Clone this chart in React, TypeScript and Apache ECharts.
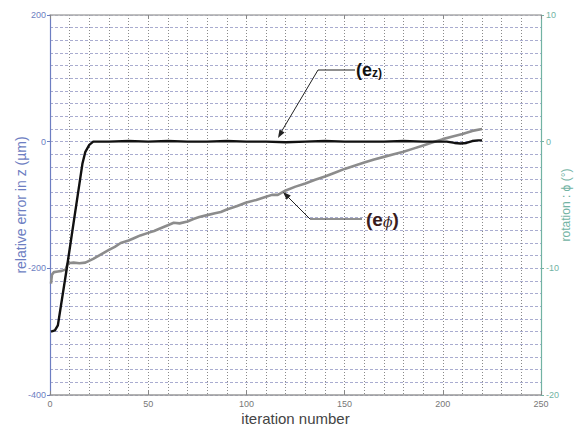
import React, { useEffect, useRef } from "react";
import * as echarts from "echarts";

// e_z : relative error in z (µm), left axis
const ezIter = [0.5, 2.5, 4, 8.5, 12.5, 16.5, 18, 20, 22, 30, 40, 50, 60, 70, 80, 90, 100, 110, 120, 130, 140, 150, 160, 170, 180, 190, 197, 202, 206, 209, 212, 215, 218, 220];
const ezVal = [-300, -298, -290, -201, -118, -35, -16, -5, 0, 0, 1, 0, 1, 0, 0, 1, 0, 0, -1, 0, 1, 0, 0, 0, 1, 0, 0, 0, -2, -3, -2, 1, 2, 2];

// e_phi : rotation (deg), right axis
const phiIter = [0.5, 1, 2, 4, 6, 8, 9, 12, 15, 18, 22, 26, 30, 33, 36, 40, 43, 46, 50, 53, 56, 60, 63, 66, 70, 73, 76, 80, 84, 87, 90, 95, 100, 105, 110, 113, 116, 120, 125, 130, 135, 140, 145, 150, 155, 160, 165, 170, 175, 180, 185, 190, 195, 200, 205, 210, 215, 220];
const phiVal = [-11.2, -10.5, -10.3, -10.25, -10.2, -10.1, -9.6, -9.55, -9.6, -9.55, -9.25, -8.9, -8.55, -8.3, -8.0, -7.8, -7.6, -7.4, -7.2, -7.05, -6.85, -6.6, -6.4, -6.45, -6.3, -6.1, -5.95, -5.8, -5.65, -5.55, -5.35, -5.1, -4.8, -4.6, -4.35, -4.2, -4.2, -3.85, -3.55, -3.3, -3.0, -2.75, -2.45, -2.15, -1.9, -1.65, -1.4, -1.2, -1.0, -0.8, -0.55, -0.3, -0.05, 0.2, 0.4, 0.6, 0.85, 1.0];

const xRange = [0, 250];
const leftRange = [-400, 200];
const rightRange = [-20, 10];

const xName = "iteration number";
const leftName = "relative error in z (µm)";
const rightName = "rotation : ϕ (°)";

const FONT = "Liberation Sans, Arial, sans-serif";
const BLUE = "#6d7ec2";
const GREEN = "#72b3a3";

export default function App() {
  const ref = useRef<HTMLDivElement>(null);
  useEffect(() => {
    if (!ref.current) return;
    const chart = echarts.init(ref.current, null, { renderer: "svg" });
    const ezData = ezIter.map((x, i) => [x, ezVal[i]]);
    const phiData = phiIter.map((x, i) => [x, phiVal[i]]);
    const vGrid = { show: true, lineStyle: { color: "#8a8a8a", type: [1, 2], width: 1 } };
    const hGrid = { show: true, lineStyle: { color: "#a9acd0", type: [3, 2], width: 1 } };
    chart.setOption({
      animation: false,
      backgroundColor: "#ffffff",
      grid: { left: 50, right: 38, top: 15, bottom: 34, containLabel: false, outerBoundsMode: "none" },
      xAxis: [
        {
          type: "value",
          min: xRange[0],
          max: xRange[1],
          interval: 50,
          position: "bottom",
          name: xName,
          nameLocation: "middle",
          nameGap: 16,
          nameMoveOverlap: false,
          nameTextStyle: { fontFamily: FONT, fontSize: 15, color: "#444" },
          axisLine: { show: true, onZero: false, lineStyle: { color: "#999", width: 1.5 } },
          axisTick: { show: true, inside: true, length: 4, lineStyle: { color: "#888" } },
          axisLabel: { fontFamily: FONT, fontSize: 9, color: "#777", margin: 4 },
          splitLine: vGrid,
          minorTick: { show: false, splitNumber: 5 },
          minorSplitLine: vGrid,
        },
        {
          type: "value",
          min: xRange[0],
          max: xRange[1],
          interval: 50,
          position: "top",
          axisLine: { show: true, onZero: false, lineStyle: { color: "#aaa", width: 1.5 } },
          axisTick: { show: true, inside: true, length: 4, lineStyle: { color: "#888" } },
          axisLabel: { show: false },
          splitLine: { show: false },
        },
      ],
      yAxis: [
        {
          type: "value",
          min: leftRange[0],
          max: leftRange[1],
          interval: 200,
          position: "left",
          name: leftName,
          nameLocation: "middle",
          nameRotate: 90,
          nameGap: 22,
          nameMoveOverlap: false,
          nameTextStyle: { fontFamily: FONT, fontSize: 14, color: BLUE },
          axisLine: { show: true, onZero: false, lineStyle: { color: BLUE, width: 1.2 } },
          axisTick: { show: true, length: 3, lineStyle: { color: BLUE } },
          axisLabel: { fontFamily: FONT, fontSize: 9, color: BLUE, margin: 4 },
          splitLine: hGrid,
          minorTick: { show: false, splitNumber: 10 },
          minorSplitLine: hGrid,
        },
        {
          type: "value",
          min: rightRange[0],
          max: rightRange[1],
          interval: 10,
          position: "right",
          name: rightName,
          nameLocation: "middle",
          nameRotate: 90,
          nameGap: 19,
          nameMoveOverlap: false,
          nameTextStyle: { fontFamily: FONT, fontSize: 12, color: GREEN },
          axisLine: { show: true, onZero: false, lineStyle: { color: GREEN, width: 1.2 } },
          axisTick: { show: true, length: 3, lineStyle: { color: GREEN } },
          axisLabel: { fontFamily: FONT, fontSize: 9, color: GREEN, margin: 5 },
          splitLine: { show: false },
        },
      ],
      series: [
        {
          type: "line",
          xAxisIndex: 0,
          yAxisIndex: 1,
          data: phiData,
          showSymbol: false,
          lineStyle: { color: "#8c8c8c", width: 2.6 },
          z: 3,
        },
        {
          type: "line",
          xAxisIndex: 0,
          yAxisIndex: 0,
          data: ezData,
          showSymbol: false,
          lineStyle: { color: "#111111", width: 2.4 },
          z: 4,
        },
      ],
      graphic: [
        { type: "polyline", shape: { points: [[355, 70], [318, 70], [280, 134]] }, style: { stroke: "#222", lineWidth: 1, fill: null }, z: 10 },
        { type: "polygon", shape: { points: [[278, 138], [284.6, 132.6], [279.5, 129.6]] }, style: { fill: "#222" }, z: 10 },
        {
          type: "text",
          x: 356,
          y: 70,
          style: {
            text: "{b|(e}{s|z)}",
            verticalAlign: "middle",
            rich: {
              b: { fontFamily: FONT, fontSize: 18, fontWeight: "bold", fill: "#111" },
              s: { fontFamily: FONT, fontSize: 12, fontWeight: "bold", fill: "#111", padding: [6, 0, 0, 0] },
            },
          },
          z: 10,
        },
        { type: "polyline", shape: { points: [[362, 219], [310, 219], [286, 195]] }, style: { stroke: "#222", lineWidth: 1, fill: null }, z: 10 },
        { type: "polygon", shape: { points: [[283, 192], [290.8, 195.5], [286.6, 199.8]] }, style: { fill: "#222" }, z: 10 },
        {
          type: "text",
          x: 366,
          y: 219,
          style: {
            text: "{b|(e}{p|ϕ}{b|)}",
            verticalAlign: "middle",
            rich: {
              b: { fontFamily: FONT, fontSize: 19, fontWeight: "bold", fill: "#3a1c1c" },
              p: { fontFamily: "DejaVu Serif, serif", fontSize: 14, fontStyle: "italic", fill: "#3a1c1c", padding: [6, 0, 0, 0] },
            },
          },
          z: 10,
        },
      ],
    });
    return () => chart.dispose();
  }, []);
  return <div ref={ref} style={{ position: "fixed", left: 0, top: 0, width: 579, height: 429 }} />;
}
